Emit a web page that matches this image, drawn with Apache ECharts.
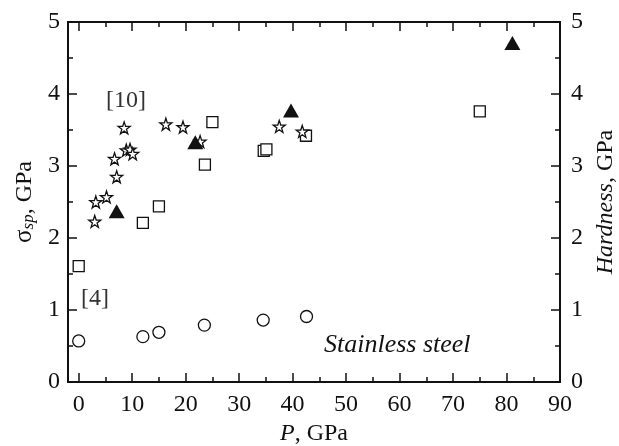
<!DOCTYPE html>
<html>
<head>
<meta charset="utf-8">
<script src="https://cdn.jsdelivr.net/npm/echarts@6/dist/echarts.min.js"></script>
<style>
  html, body { margin: 0; padding: 0; background: #fff; }
  #chart { width: 619px; height: 446px; }
</style>
</head>
<body>
<div id="chart"></div>
<script>
// data: [P, GPa]
var squares = [[0, 1.61], [12, 2.21], [15, 2.44], [23.6, 3.02], [25, 3.61],
  [34.6, 3.21], [35.1, 3.23], [42.5, 3.42], [75, 3.76]];
var circles = [[0, 0.57], [12, 0.63], [15, 0.69], [23.5, 0.79], [34.5, 0.86], [42.6, 0.91]];
var stars = [[3, 2.23], [3.2, 2.5], [5.2, 2.57], [7.1, 2.85], [6.7, 3.1], [8.5, 3.53],
  [8.9, 3.22], [9.6, 3.23], [10.1, 3.17], [16.3, 3.58], [19.5, 3.54], [22.7, 3.34],
  [37.5, 3.55], [41.8, 3.48]];
var triangles = [[7.1, 2.37], [21.8, 3.33], [39.7, 3.77], [81.1, 4.71]];

// tick values
var xMajorTicks = [0, 10, 20, 30, 40, 50, 60, 70, 80, 90];
var xMinorTicks = [5, 15, 25, 35, 45, 55, 65, 75, 85];

var font = "Liberation Serif";
var starPath = "path://M50,0 L61.8,35.1 L98.1,35.1 L68.9,56.8 L79.4,91.0 L50,70.6 L20.6,91.0 L31.1,56.8 L1.9,35.1 L38.2,35.1 Z";

var chart = echarts.init(document.getElementById("chart"));

// x axis helper: major ticks long with labels, minor ticks short
function xAxis(pos, vals, len, labels) {
  return {
    type: "value",
    position: pos,
    min: -2,
    max: 90,
    axisLine: { show: true, onZero: false, lineStyle: { color: "#111", width: 2 } },
    axisTick: { show: true, inside: true, length: len, customValues: vals, lineStyle: { color: "#111", width: 1.5 } },
    axisLabel: { show: labels, customValues: vals, margin: 11, color: "#111", fontFamily: font, fontSize: 24 },
    splitLine: { show: false }
  };
}

function yAxis(pos, labels) {
  return {
    type: "value",
    position: pos,
    min: 0,
    max: 5,
    interval: 1,
    axisLine: { show: true, onZero: false, lineStyle: { color: "#111", width: 2 } },
    axisTick: { show: true, inside: true, length: 9, lineStyle: { color: "#111", width: 1.5 } },
    minorTick: { show: true, splitNumber: 2, length: 5, lineStyle: { color: "#111", width: 1.5 } },
    axisLabel: { show: labels, margin: pos == "left" ? 8 : 11, color: "#111", fontFamily: font, fontSize: 24 },
    splitLine: { show: false }
  };
}

var bottomX = xAxis("bottom", xMajorTicks, 9, true);
bottomX.name = "{i|P}{n|, GPa}";
bottomX.nameLocation = "middle";
bottomX.nameGap = 36;
bottomX.nameTextStyle = {
  rich: {
    i: { fontFamily: font, fontSize: 24, fontStyle: "italic", color: "#111" },
    n: { fontFamily: font, fontSize: 24, color: "#111" }
  }
};

var leftY = yAxis("left", true);
leftY.name = "{a|σ}{s|sp}{n|, GPa}";
leftY.nameLocation = "middle";
leftY.nameRotate = 90;
leftY.nameGap = 30;
leftY.nameTextStyle = {
  rich: {
    a: { fontFamily: font, fontSize: 25, color: "#111", verticalAlign: "bottom", lineHeight: 28 },
    s: { fontFamily: font, fontSize: 17, fontStyle: "italic", color: "#111", verticalAlign: "bottom", lineHeight: 20 },
    n: { fontFamily: font, fontSize: 24, color: "#111", verticalAlign: "bottom", lineHeight: 28 }
  }
};

var rightY = yAxis("right", true);
rightY.name = "{i|Hardness}{n|, GPa}";
rightY.nameLocation = "middle";
rightY.nameRotate = 90;
rightY.nameGap = 24;
rightY.nameTextStyle = {
  rich: {
    i: { fontFamily: font, fontSize: 24, fontStyle: "italic", color: "#111" },
    n: { fontFamily: font, fontSize: 24, color: "#111" }
  }
};

var markerStyle = { color: "#fff", borderColor: "#111", borderWidth: 1.3, opacity: 1 };

chart.setOption({
  animation: false,
  backgroundColor: "#fff",
  grid: { left: 68, right: 59, top: 22, bottom: 64, containLabel: false, outerBoundsMode: "none" },
  xAxis: [
    bottomX,
    xAxis("bottom", xMinorTicks, 5, false),
    xAxis("top", xMajorTicks, 9, false),
    xAxis("top", xMinorTicks, 5, false)
  ],
  yAxis: [leftY, rightY],
  graphic: [
    { type: "text", left: 106, top: 89, style: { text: "[10]", fontFamily: font, fontSize: 24, fill: "#333" } },
    { type: "text", left: 81, top: 287, style: { text: "[4]", fontFamily: font, fontSize: 24, fill: "#333" } },
    { type: "text", left: 324, top: 332, style: { text: "Stainless steel", fontFamily: font, fontSize: 26, fontStyle: "italic", fill: "#111" } }
  ],
  series: [
    { type: "scatter", name: "squares", data: squares, symbol: "rect", symbolSize: 11, itemStyle: markerStyle },
    { type: "scatter", name: "circles", data: circles, symbol: "circle", symbolSize: 12, itemStyle: markerStyle },
    { type: "scatter", name: "stars", data: stars, symbol: starPath, symbolSize: 12, itemStyle: markerStyle },
    { type: "scatter", name: "triangles", data: triangles, symbol: "triangle", symbolSize: [16, 14], itemStyle: { color: "#111", opacity: 1 } }
  ]
});
</script>
</body>
</html>
